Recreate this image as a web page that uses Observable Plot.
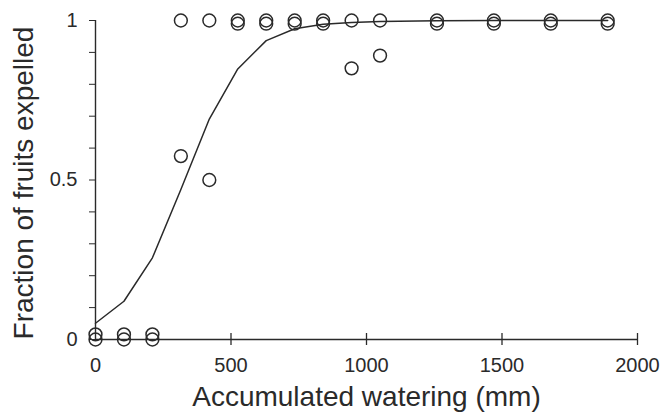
<!DOCTYPE html>
<html>
<head>
<meta charset="utf-8">
<script src="https://cdn.jsdelivr.net/npm/d3@7"></script>
<script src="https://cdn.jsdelivr.net/npm/@observablehq/plot@0.6"></script>
<style>
  html, body { margin: 0; padding: 0; background: #fff; }
  svg { display: block; }
</style>
</head>
<body>
<div id="chart"></div>
<script>
const watering = [0, 105, 210, 315, 420, 525, 630, 735, 840, 945, 1050, 1260, 1470, 1680, 1890];
const obsA = [0.016, 0.016, 0.016, 1, 1, 1, 1, 1, 1, 1, 1, 1, 1, 1, 1];
const obsB = [0, 0, 0, 0.575, 0.5, 0.99, 0.99, 0.99, 0.99, 0.85, 0.89, 0.99, 0.99, 0.99, 0.99];
const fitted = [0.051, 0.12, 0.256, 0.47, 0.691, 0.848, 0.937, 0.974, 0.988, 0.994, 0.997, 0.999, 1, 1, 1];
const xTicks = [0, 500, 1000, 1500, 2000];
const yTicks = [0, 0.1, 0.2, 0.3, 0.4, 0.5, 0.6, 0.7, 0.8, 0.9, 1];
const yLabels = { 0: "0", 0.5: "0.5", 1: "1" };
const xTitle = "Accumulated watering (mm)";
const yTitle = "Fraction of fruits expelled";

const points = watering.flatMap((w, i) => [
  { x: w, y: obsA[i] },
  { x: w, y: obsB[i] }
]);
const curve = watering.map((w, i) => ({ x: w, y: fitted[i] }));

const ink = "#2a2a2a";
const font = "'Liberation Sans', Arial, sans-serif";

const chart = Plot.plot({
  width: 663,
  height: 414,
  marginLeft: 95,
  marginRight: 26,
  marginTop: 20,
  marginBottom: 75,
  style: { fontFamily: font, color: ink, background: "#fff", overflow: "visible" },
  x: { domain: [0, 2000] },
  y: { domain: [0, 1] },
  marks: [
    Plot.ruleY([0], { x1: 0, x2: 2000, stroke: ink, strokeWidth: 1.4 }),
    Plot.ruleX([0], { y1: 0, y2: 1, stroke: ink, strokeWidth: 1.4 }),
    Plot.ruleX(xTicks.slice(1), { y1: 0, y2: 0, insetTop: -6, insetBottom: -6, stroke: ink, strokeWidth: 1.3 }),
    Plot.axisX({
      ticks: xTicks,
      tickSize: 0,
      tickPadding: 18,
      fontSize: 20,
      tickFormat: d => String(d),
      label: null,
      color: ink
    }),
    Plot.axisY({
      ticks: yTicks,
      tickSize: 6,
      tickPadding: 12,
      fontSize: 20,
      tickFormat: d => yLabels[Math.round(d * 10) / 10] ?? "",
      label: null,
      stroke: ink,
      color: ink
    }),
    Plot.text([xTitle], {
      text: d => d,
      frameAnchor: "bottom",
      textAnchor: "middle",
      dy: 66,
      fontSize: 28,
      fill: ink
    }),
    Plot.text([yTitle], {
      text: d => d,
      frameAnchor: "left",
      textAnchor: "middle",
      rotate: -90,
      dx: -71,
      dy: 3,
      fontSize: 28,
      fill: ink
    }),
    Plot.line(curve, { x: "x", y: "y", stroke: ink, strokeWidth: 1.5 }),
    Plot.dot(points, { x: "x", y: "y", r: 6.4, stroke: ink, strokeWidth: 1.5, fill: "none" })
  ]
});

document.getElementById("chart").appendChild(chart);
</script>
</body>
</html>
